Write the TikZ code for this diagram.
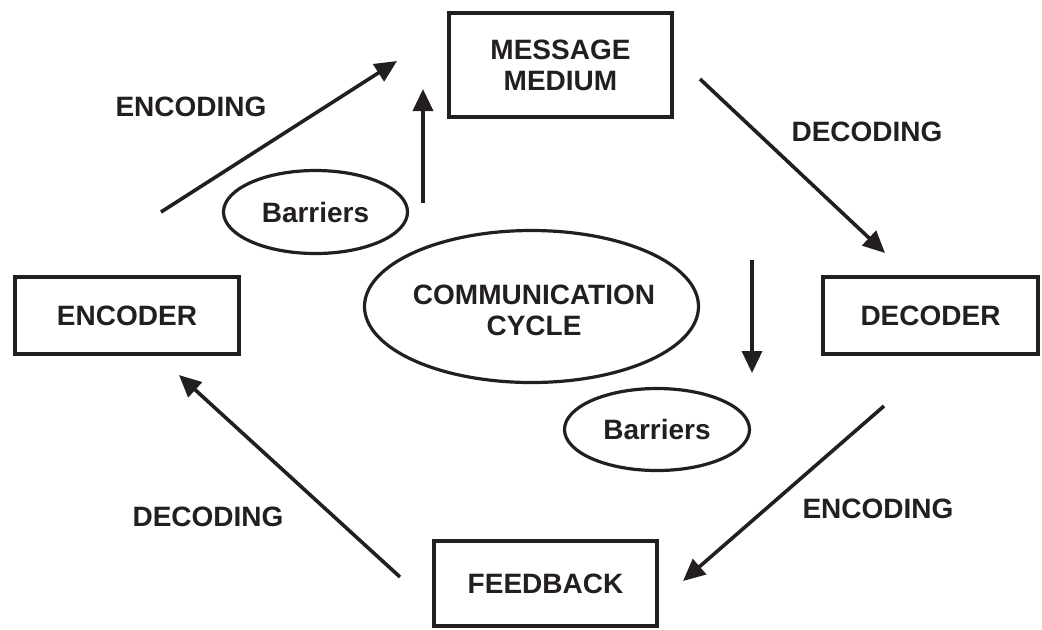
\documentclass[tikz,border=0pt]{standalone}
\usepackage{fontspec}
\setmainfont{Liberation Sans}
\usetikzlibrary{arrows.meta,shapes.geometric}
\definecolor{ink}{RGB}{35,31,32}
\begin{document}
\begin{tikzpicture}[x=0.5pt,y=-0.5pt,
  lbl/.style={font=\bfseries\fontsize{14}{15.5}\selectfont, text=ink, align=center, inner sep=0pt},
  box/.style={draw=ink, line width=2pt, inner sep=0pt, lbl},
  oval/.style={draw=ink, line width=1.6pt, ellipse, inner sep=0pt},
  flow/.style={draw=ink, line width=1.8pt, -{Triangle[length=11pt,width=10pt]}}]
\useasboundingbox (0,0) rectangle (1042,629);
% boxes
\node[box, minimum width=111.5pt, minimum height=52pt] (msg) at (560.5,65) {MESSAGE\\MEDIUM};
\node[box, minimum width=112pt, minimum height=38.5pt] (enc) at (127,315.5) {ENCODER};
\node[box, minimum width=107.5pt, minimum height=38.5pt] (dec) at (930.5,315.5) {DECODER};
\node[box, minimum width=111.5pt, minimum height=42.5pt] (fb) at (545.5,583.5) {FEEDBACK};
% ellipses
\node[oval, minimum width=92pt, minimum height=41.5pt] (bar1) at (315.5,212) {};
\node[lbl] (bar1t) at (bar1) {Barriers};
\node[oval, minimum width=92.5pt, minimum height=41pt] (bar2) at (657,429.5) {};
\node[lbl] (bar2t) at (bar2) {Barriers};
\node[oval, minimum width=167pt, minimum height=76pt] (cyc) at (531.5,306.5) {};
\node[lbl] (cyct) at (534,310) {COMMUNICATION\\CYCLE};
% arrow end points
\coordinate (a1s) at (161,212); \coordinate (a1e) at (397,61);
\coordinate (a2s) at (423,203); \coordinate (a2e) at (423,89);
\coordinate (a3s) at (700,79);  \coordinate (a3e) at (885,253);
\coordinate (a4s) at (752,260); \coordinate (a4e) at (752,373);
\coordinate (a5s) at (884,406); \coordinate (a5e) at (683,581);
\coordinate (a6s) at (400,577); \coordinate (a6e) at (179,375);
\draw[flow] (a1s) -- (a1e);
\draw[flow] (a2s) -- (a2e);
\draw[flow] (a3s) -- (a3e);
\draw[flow] (a4s) -- (a4e);
\draw[flow] (a5s) -- (a5e);
\draw[flow] (a6s) -- (a6e);
% labels
\node[lbl] (l1) at (191,107) {ENCODING};
\node[lbl] (l2) at (867,132) {DECODING};
\node[lbl] (l3) at (878,509) {ENCODING};
\node[lbl] (l4) at (208,517) {DECODING};
\end{tikzpicture}
\end{document}
